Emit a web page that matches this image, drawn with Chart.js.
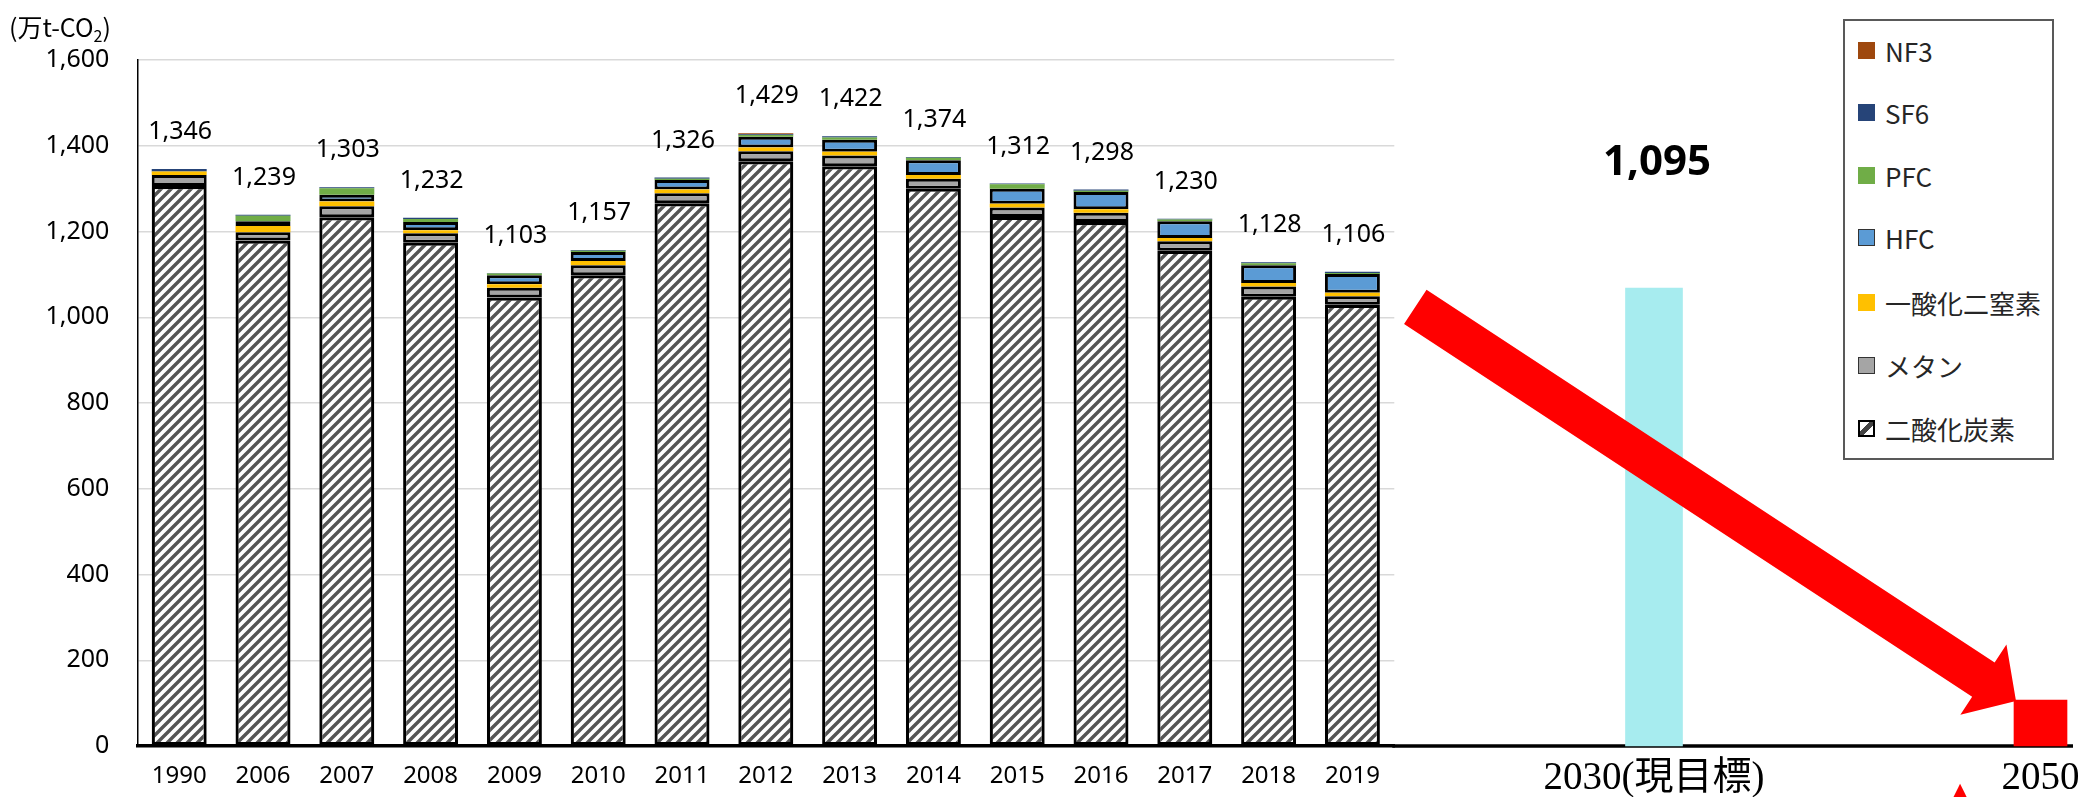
<!DOCTYPE html>
<html><head><meta charset="utf-8">
<script src="https://cdn.jsdelivr.net/npm/chart.js@4.4.1/dist/chart.umd.min.js"></script>
<style>
html,body{margin:0;padding:0;background:#fff;}
#wrap{position:relative;width:2092px;height:797px;overflow:hidden;background:#fff;}
#wrap canvas{position:absolute;left:0;top:0;}
#unit{position:absolute;left:9px;top:10px;font:25px "Noto Sans CJK JP";color:#000;line-height:32px;white-space:nowrap;}
#unit sub{font-size:16px;vertical-align:-5px;line-height:0;}
#legend{position:absolute;left:1843px;top:19px;width:207px;height:437px;border:2px solid #595959;background:#fff;}
.item{position:absolute;left:0;height:34px;display:flex;align-items:center;font:26px "Noto Sans CJK JP";color:#262626;white-space:nowrap;}
.mk{width:17px;height:17px;box-sizing:border-box;margin-left:13px;margin-right:10px;flex:none;}
</style>
</head><body>
<div id="wrap">
<canvas id="cA" width="2092" height="797"></canvas>
<canvas id="cB" width="2092" height="797"></canvas>
<div id="unit">(万t-CO<sub>2</sub>)</div>
<div id="legend"></div>
</div>
<script>
// ---- data ----
const years = ['1990','2006','2007','2008','2009','2010','2011','2012','2013','2014','2015','2016','2017','2018','2019'];
const co2     = [1306,1179,1233,1174,1046,1098,1266,1364,1352,1300,1234,1222,1155,1048,1029];
const methane = [26,19,26,22,23,23,23,23,25,23,22,22,22,24,20];
const n2o     = [8,15,11,7,8,10,9,9,9,9,9,8,8,8,8];
const hfc     = [0,11,16,19,21,21,22,25,28,34,35,40,39,41,44];
const pfc     = [0,13,15,7,4,3,3,4,5,6,10,3,4,5,2];
const sf6     = [6,2,2,3,1,2,3,2,3,2,2,3,2,2,3];
const nf3     = [0,0,0,0,0,0,0,2,0,0,0,0,0,0,0];
const totals  = [1346,1239,1303,1232,1103,1157,1326,1429,1422,1374,1312,1298,1230,1128,1106];
const targetLabels = ['2030(現目標)','2050'];
const target2030 = 1068;        // bar as drawn
const target2030Label = 1095;   // value printed above it
const target2050 = 107;
const arrowStartValue = 1024;
const yTicks = {min:0, max:1600, step:200};

// ---- hatch pattern ----
function makeHatch(){
  const T=10, c=document.createElement('canvas'); c.width=T; c.height=T;
  const g=c.getContext('2d'); g.fillStyle='#fff'; g.fillRect(0,0,T,T);
  g.strokeStyle='#555555'; g.lineWidth=3.4;
  g.beginPath();
  g.moveTo(-1,T+1); g.lineTo(T+1,-1);
  g.moveTo(-T/2-1,T/2+1); g.lineTo(T/2+1,-T/2-1);
  g.moveTo(T/2-1,1.5*T+1); g.lineTo(1.5*T+1,T/2-1);
  g.stroke();
  return g.createPattern(c,'repeat');
}
const hatch = makeHatch();
const fmt = v => Number(v).toLocaleString('en-US');

const totalsPlugin = {id:'totals', afterDatasetsDraw(chart){
  const {ctx, scales:{x,y}} = chart;
  ctx.save(); ctx.font='25px "Noto Sans"'; ctx.fillStyle='#000';
  ctx.textAlign='center'; ctx.textBaseline='middle';
  totals.forEach((t,i)=>ctx.fillText(fmt(t), x.getPixelForValue(i)+1, y.getPixelForValue(t)-37));
  ctx.restore();
}};

const chartA = new Chart(document.getElementById('cA'), {
  type:'bar',
  data:{labels:years, datasets:[
    {label:'二酸化炭素', data:co2, backgroundColor:hatch, borderColor:'#000', borderWidth:3.2, mk:'hatch'},
    {label:'メタン', data:methane, backgroundColor:'#A5A5A5', borderColor:'#000', borderWidth:3},
    {label:'一酸化二窒素', data:n2o, backgroundColor:'#FFC000', borderWidth:0},
    {label:'HFC', data:hfc, backgroundColor:'#5B9BD5', borderColor:'#000', borderWidth:3},
    {label:'PFC', data:pfc, backgroundColor:'#70AD47', borderWidth:0},
    {label:'SF6', data:sf6, backgroundColor:'#264478', borderWidth:0},
    {label:'NF3', data:nf3, backgroundColor:'#9E480E', borderWidth:0}
  ]},
  options:{
    responsive:false, animation:false,
    layout:{padding:{left:0, right:2092-1394.3, top:60, bottom:0}},
    plugins:{legend:{display:false}, tooltip:{enabled:false}},
    datasets:{bar:{barPercentage:0.656, categoryPercentage:1, borderSkipped:false}},
    scales:{
      x:{stacked:true, grid:{display:false, drawTicks:false}, border:{color:'#000', width:3.5},
         ticks:{font:{family:'Noto Sans', size:24}, color:'#000', padding:16, maxRotation:0, autoSkip:false},
         afterFit(s){ s.height = 51; }},
      y:{stacked:true, min:yTicks.min, max:yTicks.max,
         ticks:{stepSize:yTicks.step, callback:v=>fmt(v), font:{family:'Noto Sans', size:25}, color:'#000', padding:28},
         grid:{color:'#d9d9d9', lineWidth:1.5, drawTicks:false}, border:{color:'#000', width:1.5},
         afterFit(s){ s.width = 137.3; }}
    }
  },
  plugins:[totalsPlugin]
});

const overlayPlugin = {id:'overlay',
  beforeDatasetsDraw(chart){
    const ctx=chart.ctx, y0=chart.scales.y.getPixelForValue(0);
    ctx.save(); ctx.strokeStyle='#000'; ctx.lineWidth=3.5;
    ctx.beginPath(); ctx.moveTo(chartA.chartArea.right-2, y0); ctx.lineTo(chart.width-19, y0); ctx.stroke();
    ctx.restore();
  },
  afterDatasetsDraw(chart){
    const ctx=chart.ctx, yS=chart.scales.y;
    const bar30 = chart.getDatasetMeta(0).data[0];
    const bar50 = chart.getDatasetMeta(1).data[1];
    // arrow
    const tip = {x: bar50.x - bar50.width/2 + 2, y: bar50.y + 1};
    const tail = {x: chartA.chartArea.right + 21, y: yS.getPixelForValue(arrowStartValue)};
    let dx=tip.x-tail.x, dy=tip.y-tail.y; const L=Math.hypot(dx,dy); dx/=L; dy/=L;
    const nx=dy, ny=-dx;
    const hw=20.5, hh=42, hl=39;
    const bx=tip.x-dx*hl, by=tip.y-dy*hl;
    ctx.save(); ctx.fillStyle='#FF0000';
    ctx.beginPath();
    ctx.moveTo(tail.x+nx*hw, tail.y+ny*hw);
    ctx.lineTo(bx+nx*hw, by+ny*hw);
    ctx.lineTo(bx+nx*hh, by+ny*hh);
    ctx.lineTo(tip.x, tip.y);
    ctx.lineTo(bx-nx*hh, by-ny*hh);
    ctx.lineTo(bx-nx*hw, by-ny*hw);
    ctx.lineTo(tail.x-nx*hw, tail.y-ny*hw);
    ctx.closePath(); ctx.fill();
    // 2030 label
    ctx.fillStyle='#000'; ctx.font='bold 42px "Noto Sans"'; ctx.textAlign='center'; ctx.textBaseline='middle';
    ctx.fillText(fmt(target2030Label), bar30.x+3, bar30.y-125);
    // red triangle mark
    ctx.fillStyle='#FF0000'; ctx.font='36px "DejaVu Sans"'; ctx.textBaseline='alphabetic';
    ctx.fillText('▲', bar50.x-80.5, chart.height+10);
    ctx.restore();
  }
};

const chartB = new Chart(document.getElementById('cB'), {
  type:'bar',
  data:{labels:targetLabels, datasets:[
    {label:'2030年目標', data:[target2030, null], backgroundColor:'#A7ECEF', barThickness:57, clip:false},
    {label:'2050年', data:[null, target2050], backgroundColor:'#FF0000', barThickness:53, clip:false}
  ]},
  options:{
    responsive:false, animation:false,
    layout:{padding:{left:1654, right:2092-2040.5, top:60, bottom:0}},
    plugins:{legend:{display:false}, tooltip:{enabled:false}},
    scales:{
      x:{type:'category', offset:false, stacked:true, grid:{display:false, drawTicks:false}, border:{display:false},
         ticks:{font:{family:'"Liberation Serif","Noto Sans CJK JP"', size:39}, color:'#000', padding:9.5, maxRotation:0, autoSkip:false},
         afterFit(s){ s.height = 51; }},
      y:{display:false, stacked:true, min:yTicks.min, max:yTicks.max}
    }
  },
  plugins:[overlayPlugin]
});

// ---- legend (built from chart A datasets, top = last series) ----
const lg = document.getElementById('legend');
const centers = [50,112,175,237,302,365,428];
chartA.data.datasets.slice().reverse().forEach((ds,i)=>{
  const it=document.createElement('div'); it.className='item'; it.style.top=(centers[i]-21-17)+'px';
  const mk=document.createElement('span'); mk.className='mk';
  if(ds.mk==='hatch'){
    mk.style.border='2px solid #000';
    mk.style.background='linear-gradient(135deg,#fff 0 38%,#444 38% 62%,#fff 62% 100%)';
  } else {
    mk.style.background=ds.backgroundColor;
    if(ds.borderWidth) mk.style.border='1.5px solid #333';
  }
  it.appendChild(mk);
  const tx=document.createElement('span'); tx.textContent=ds.label; it.appendChild(tx);
  lg.appendChild(it);
});
</script>
</body></html>
